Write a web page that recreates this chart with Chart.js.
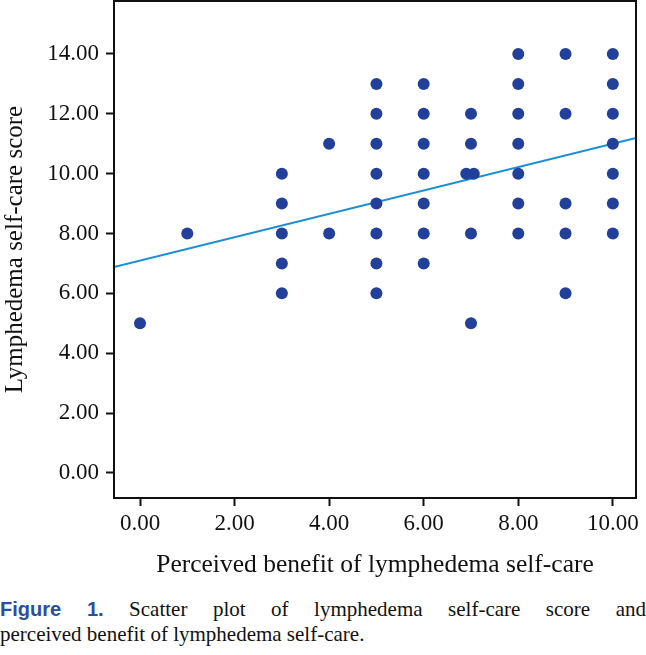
<!DOCTYPE html>
<html>
<head>
<meta charset="utf-8">
<script src="https://cdn.jsdelivr.net/npm/chart.js@4.4.1/dist/chart.umd.min.js"></script>
<style>
  html, body { margin: 0; padding: 0; background: #fff; }
  body { width: 646px; height: 655px; overflow: hidden; position: relative; font-family: "Liberation Serif", serif; }
  #wrap { position: absolute; left: 0; top: 0; width: 646px; height: 590px; }
  .caption { position: absolute; left: 0; top: 597px; width: 646px; font-size: 21px; line-height: 25px; color: #111; }
  .caption .first { text-align: justify; text-align-last: justify; }
  .caption b { color: #2a4f9e; font-family: "Liberation Sans", sans-serif; font-size: 20px; }
</style>
</head>
<body>
<div id="wrap"><canvas id="scatter"></canvas></div>
<div class="caption">
  <div class="first"><b>Figure 1.</b> Scatter plot of lymphedema self-care score and</div>
  <div>perceived benefit of lymphedema self-care.</div>
</div>
<script>
// perceived benefit (x) and self-care score (y), one entry per respondent
const benefit = [
  0,
  1,
  3, 3, 3, 3, 3,
  4, 4,
  5, 5, 5, 5, 5, 5, 5, 5,
  6, 6, 6, 6, 6, 6, 6,
  7, 7, 6.9, 7.06, 7, 7,
  8, 8, 8, 8, 8, 8, 8,
  9, 9, 9, 9, 9,
  10, 10, 10, 10, 10, 10, 10
];
const score = [
  5,
  8,
  10, 9, 8, 7, 6,
  11, 8,
  13, 12, 11, 10, 9, 8, 7, 6,
  13, 12, 11, 10, 9, 8, 7,
  12, 11, 10, 10, 8, 5,
  14, 13, 12, 11, 10, 9, 8,
  14, 12, 9, 8, 6,
  14, 13, 12, 11, 10, 9, 8
];

// fit line, read at the left and right edges of the plot
const fitX = [-0.55, 10.49];
const fitY = [6.88, 11.19];

const xTicks = [0, 2, 4, 6, 8, 10];
const yTicks = [0, 2, 4, 6, 8, 10, 12, 14];

const points = benefit.map((b, i) => ({ x: b, y: score[i] }));
const fitLine = fitX.map((x, i) => ({ x, y: fitY[i] }));

const ink = "#111";
const serif = "'Liberation Serif', 'Times New Roman', serif";

// box round the plot area
const framePlugin = {
  id: "frame",
  afterDatasetsDraw(chart) {
    const { ctx, chartArea: a } = chart;
    ctx.save();
    ctx.strokeStyle = ink;
    ctx.lineWidth = 2;
    ctx.strokeRect(a.left, a.top, a.right - a.left, a.bottom - a.top);
    ctx.restore();
  }
};

new Chart(document.getElementById("scatter"), {
  type: "scatter",
  data: {
    datasets: [
      {
        type: "line",
        data: fitLine,
        borderColor: "#1b8fd6",
        borderWidth: 2,
        pointRadius: 0,
        fill: false,
        order: 2
      },
      {
        data: points,
        backgroundColor: "#22409a",
        borderWidth: 0,
        pointRadius: 6,
        order: 1
      }
    ]
  },
  options: {
    responsive: true,
    maintainAspectRatio: false,
    animation: false,
    layout: { autoPadding: false, padding: { top: 1, right: 10, left: 0, bottom: 0 } },
    plugins: { legend: { display: false }, tooltip: { enabled: false } },
    scales: {
      x: {
        type: "linear",
        min: -0.55,
        max: 10.49,
        afterBuildTicks: s => { s.ticks = xTicks.map(v => ({ value: v })); },
        afterFit: s => { s.height = 92; s.paddingLeft = 0; s.paddingRight = 0; },
        grid: { drawOnChartArea: false, drawTicks: true, tickLength: 8, tickWidth: 2, color: ink },
        border: { display: true, color: ink, width: 2 },
        ticks: { color: ink, padding: 4, font: { family: serif, size: 23 }, callback: v => v.toFixed(2) },
        title: { display: true, text: "Perceived benefit of lymphedema self-care", color: ink,
                 font: { family: serif, size: 25.5 }, padding: { top: 0, bottom: 9 } }
      },
      y: {
        type: "linear",
        min: -0.84,
        max: 15.77,
        afterBuildTicks: s => { s.ticks = yTicks.map(v => ({ value: v })); },
        afterFit: s => { s.width = 114; s.paddingTop = 0; s.paddingBottom = 0; },
        grid: { drawOnChartArea: false, drawTicks: true, tickLength: 8, tickWidth: 2, color: ink },
        border: { display: true, color: ink, width: 2 },
        ticks: { color: ink, padding: 7, font: { family: serif, size: 23 }, callback: v => v.toFixed(2) },
        title: { display: true, text: "Lymphedema self-care score", color: ink,
                 font: { family: serif, size: 25 }, padding: { top: 0, bottom: 0 } }
      }
    }
  },
  plugins: [framePlugin]
});
</script>
</body>
</html>
